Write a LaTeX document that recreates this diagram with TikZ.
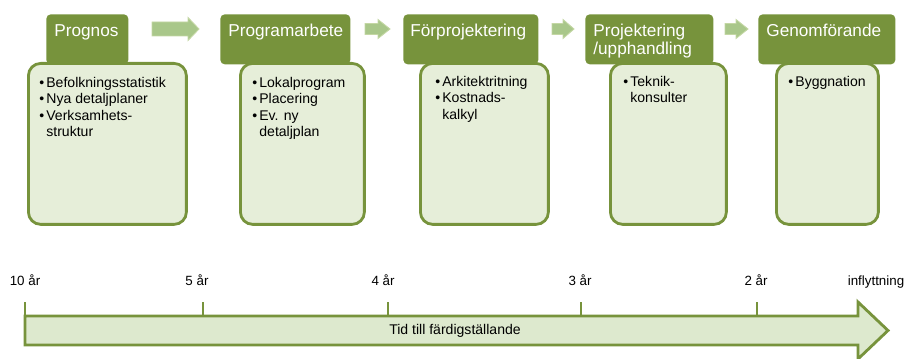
\documentclass[tikz,border=0pt]{standalone}
\usepackage{fontspec}
\setmainfont{Liberation Sans}
\usetikzlibrary{positioning}
\definecolor{OlivGron}{HTML}{77933C}
\definecolor{LjusGron}{HTML}{E6EED9}
\definecolor{PilGron}{HTML}{A9C78A}
\definecolor{PilKant}{HTML}{C4D7A4}
\definecolor{TidGron}{HTML}{DDE9CE}
\newcommand{\pkt}{\makebox[4pt][l]{\textbullet}}
\newcommand{\indrag}{\hspace*{4pt}}

\begin{document}
\begin{tikzpicture}[
        x=0.02cm, y=-0.02cm,
        head/.style={fill=OlivGron, rounded corners=2.5pt, anchor=north west, inner sep=0pt,
                     minimum height=1.0cm},
        htext/.style={text=white, align=left, inner sep=0pt, font=\fontsize{9.8}{9.8}\selectfont},
        body/.style={draw=OlivGron, line width=1.6pt, fill=LjusGron, rounded corners=7pt,
                     anchor=north west, inner sep=0pt, minimum height=3.22cm},
        btext/.style={align=left, inner sep=0pt, font=\fontsize{8}{9.3}\selectfont},
        pil/.style={fill=PilGron, draw=PilKant, line width=0.5pt},
        tidpil/.style={draw=OlivGron, line width=1.6pt, fill=TidGron},
        tick/.style={draw=OlivGron, line width=1.2pt},
        tid/.style={anchor=base, inner sep=0pt, font=\fontsize{7.6}{9}\selectfont},
      ]
        \useasboundingbox (0,0) rectangle (908,358);
        % rubriker
        \node[head, minimum width=1.64cm] (h1) at (46,14) {};
        \node[head, minimum width=2.60cm] (h2) at (220,14) {};
        \node[head, minimum width=2.70cm] (h3) at (403,14) {};
        \node[head, minimum width=2.56cm] (h4) at (585,14) {};
        \node[head, minimum width=2.74cm] (h5) at (758,14) {};
        \node[htext, below right=0.2cm and 0.16cm of h1.north west] (t1) {Prognos};
        \node[htext, below right=0.2cm and 0.16cm of h2.north west] (t2) {Programarbete};
        \node[htext, below right=0.2cm and 0.14cm of h3.north west] (t3) {Förprojektering};
        \node[htext, below right=0.2cm and 0.16cm of h4.north west] (t4) {Projektering\\/upphandling};
        \node[htext, below right=0.2cm and 0.16cm of h5.north west] (t5) {Genomförande};
        % innehåll
        \node[body, minimum width=3.16cm] (b1) at (27,62) {};
        \node[body, minimum width=2.48cm] (b2) at (239,62) {};
        \node[body, minimum width=2.56cm] (b3) at (419,62) {};
        \node[body, minimum width=2.32cm] (b4) at (609,62) {};
        \node[body, minimum width=2.04cm] (b5) at (775,62) {};
        \node[btext, below right=0.3cm and 0.24cm of b1.north west] (l1)
            {\pkt Befolkningsstatistik\\\pkt Nya detaljplaner\\\pkt Verksamhets-\\\indrag struktur};
        \node[btext, below right=0.3cm and 0.26cm of b2.north west] (l2)
            {\pkt Lokalprogram\\\pkt Placering\\\pkt Ev. ny\\\indrag detaljplan};
        \node[btext, below right=0.28cm and 0.32cm of b3.north west] (l3)
            {\pkt Arkitektritning\\\pkt Kostnads-\\\indrag kalkyl};
        \node[btext, below right=0.28cm and 0.28cm of b4.north west] (l4)
            {\pkt Teknik-\\\indrag konsulter};
        \node[btext, below right=0.28cm and 0.26cm of b5.north west] (l5)
            {\pkt Byggnation};
        % pilar mellan stegen
        \foreach \xa/\xh/\xb/\sh/\hh in {152/188/199/7/11.5, 365/378/390/5.5/9.5,
                                          552/563/574/5.5/9.5, 725/736/748/5.5/9.5}
          \draw[pil] (\xa,{29-\sh}) -- (\xh,{29-\sh}) -- (\xh,{29-\hh}) -- (\xb,29)
                     -- (\xh,{29+\hh}) -- (\xh,{29+\sh}) -- (\xa,{29+\sh}) -- cycle;
        % tidslinje
        \draw[tidpil] (25,316) -- (858,316) -- (858,302) -- (888,330.5) -- (858,359)
                      -- (858,345) -- (25,345) -- cycle;
        \foreach \x in {25,203,388,581,757}
          \draw[tick] (\x,302) -- (\x,316);
        \node[tid] (a10) at (25,285) {10 år};
        \node[tid] (a5) at (197,285) {5 år};
        \node[tid] (a4) at (383,285) {4 år};
        \node[tid] (a3) at (580,285) {3 år};
        \node[tid] (a2) at (756,285) {2 år};
        \node[tid] (inf) at (876,285) {inflyttning};
        \node[font=\fontsize{8}{9}\selectfont] (tidtxt) at (455,330.5) {Tid till färdigställande};
      \end{tikzpicture}
\end{document}
